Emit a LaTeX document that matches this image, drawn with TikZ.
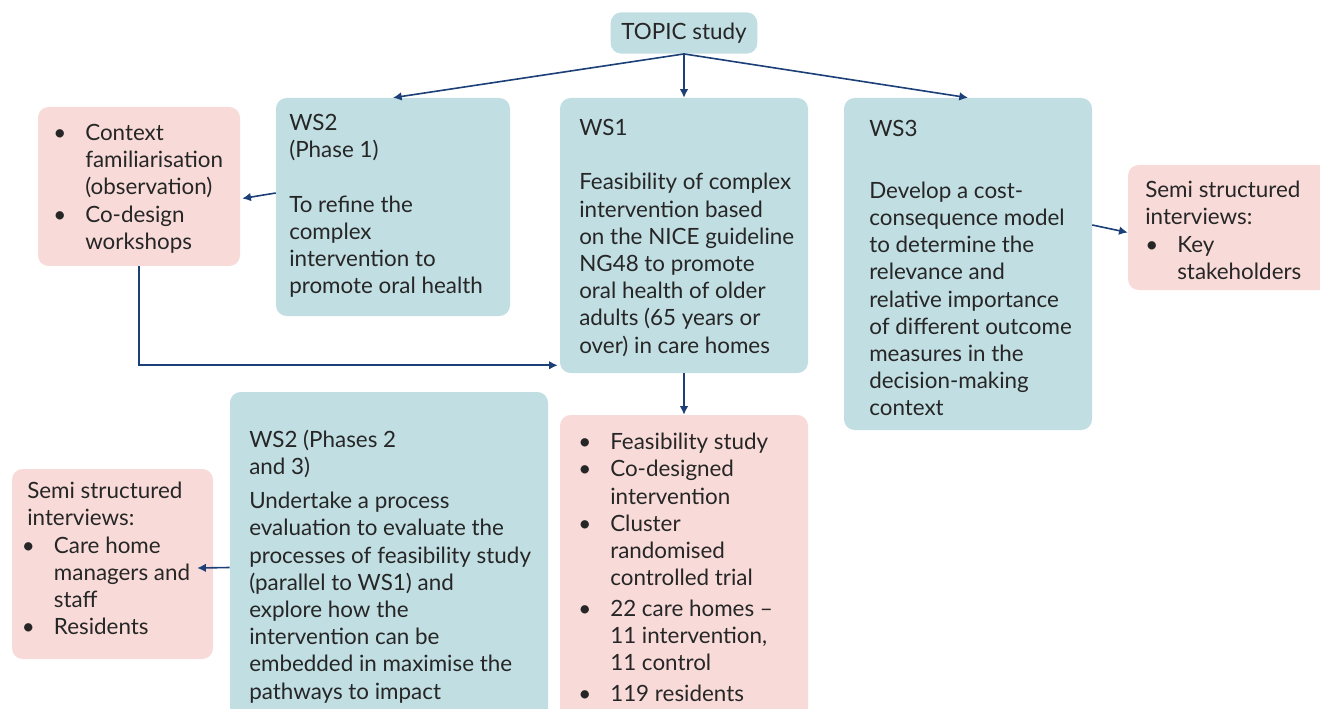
\documentclass[tikz,border=0pt]{standalone}
\usepackage{fontspec}
\setmainfont{Lato}
\usetikzlibrary{arrows.meta, calc, fit}

\definecolor{wsteal}{HTML}{C1DEE2}
\definecolor{wspink}{HTML}{F8DBD9}
\definecolor{linknavy}{HTML}{1C3F77}
\definecolor{inkgray}{HTML}{262626}

\newcommand\fs{\fontsize{16.8}{20.4}\selectfont}
\newcommand\bl{\makebox[24pt][l]{\textbullet}}
\newcommand\ind{\hspace*{24pt}}

\tikzset{
  tealbox/.style={fill=wsteal, rounded corners=8pt, inner sep=0pt},
  pinkbox/.style={fill=wspink, rounded corners=8pt, inner sep=0pt},
  txt/.style={anchor=north west, inner sep=0pt, align=left, font=\fs,
    text=inkgray, execute at begin node=\rule{0pt}{12pt}},
  link/.style={draw=linknavy, line width=1.2pt, -{Latex[length=6.5pt, width=6.5pt]}}
}

\begin{document}
\begin{tikzpicture}[x=0.75pt, y=-0.75pt]
  \useasboundingbox (0,0) rectangle (1320,709);
  % --- boxes ---
  \node[tealbox, minimum width=110pt, minimum height=31pt, font=\fs, text=inkgray]
    (topic) at (684,33) {TOPIC study};
  \node[tealbox, fit={(276,98) (510,316)}] (ws2a) {};
  \node[tealbox, fit={(560,98) (808,373)}] (ws1) {};
  \node[tealbox, fit={(844,98) (1092,430)}] (ws3) {};
  \node[pinkbox, fit={(38,107) (240,266)}] (ctx) {};
  \node[pinkbox, fit={(1128,165) (1345,290)}] (semir) {};
  \node[tealbox, fit={(230,392) (548,735)}] (ws2b) {};
  \node[pinkbox, fit={(560,415) (808,735)}] (fea) {};
  \node[pinkbox, fit={(12,469) (213,659)}] (semil) {};
  % --- texts ---
  \node[txt] (ws2atxt) at (289,114) {WS2\\(Phase 1)\\[20.4pt]To refine the\\complex\\intervention to\\promote oral health};
  \node[txt] (ws1txt) at (579,119) {WS1\\[20.4pt]Feasibility of complex\\intervention based\\on the NICE guideline\\NG48 to promote\\oral health of older\\adults (65 years or\\over) in care homes};
  \node[txt] (ws3txt) at (869,120) {WS3\\[26pt]Develop a cost-\\consequence model\\to determine the\\relevance and\\relative importance\\of different outcome\\measures in the\\decision-making\\context};
  \node[txt] (ctxtxt) at (53,124) {\bl Context\\\ind familiarisation\\\ind (observation)\\\bl Co-design\\\ind workshops};
  \node[txt] (semirtxt) at (1145,181) {Semi structured\\interviews:\\\bl Key\\\ind stakeholders};
  \node[txt] (ws2btxt) at (249,430) {WS2 (Phases 2\\and 3)\\[5pt]Undertake a process\\evaluation to evaluate the\\processes of feasibility study\\(parallel to WS1) and\\explore how the\\intervention can be\\embedded in maximise the\\pathways to impact};
  \node[txt] (featxt) at (578,433) {\bl Feasibility study\\\bl Co-designed\\\ind intervention\\\bl Cluster\\\ind randomised\\\ind controlled trial\\[2.6pt]\bl 22 care homes --\\\ind 11 intervention,\\\ind 11 control\\[2.6pt]\bl 119 residents};
  \node[txt] (semiltxt) at (27,482) {Semi structured\\interviews:\\\hspace*{-4pt}\bl Care home\\\hspace*{20pt}managers and\\\hspace*{20pt}staff\\\hspace*{-4pt}\bl Residents};
  % --- connectors ---
  \draw[link] (topic.south) -- (ws2a.north);
  \draw[link] (topic.south) -- (ws1.north);
  \draw[link] (topic.south) -- (ws3.north);
  \draw[link] ($(ws2a.west)+(0,-14)$) -- ($(ctx.east)+(2,12)$);
  \draw[link] (ctx.south) |- ($(ws1.south west)+(-2,-8)$);
  \draw[link] (ws1.south) -- (fea.north);
  \draw[link] ($(ws3.east)+(0,-39)$) -- ($(semir.west)+(0,5)$);
  \draw[link] ($(ws2b.west)+(0,4)$) -- ($(semil.east)+(-16,4)$);
\end{tikzpicture}
\end{document}
